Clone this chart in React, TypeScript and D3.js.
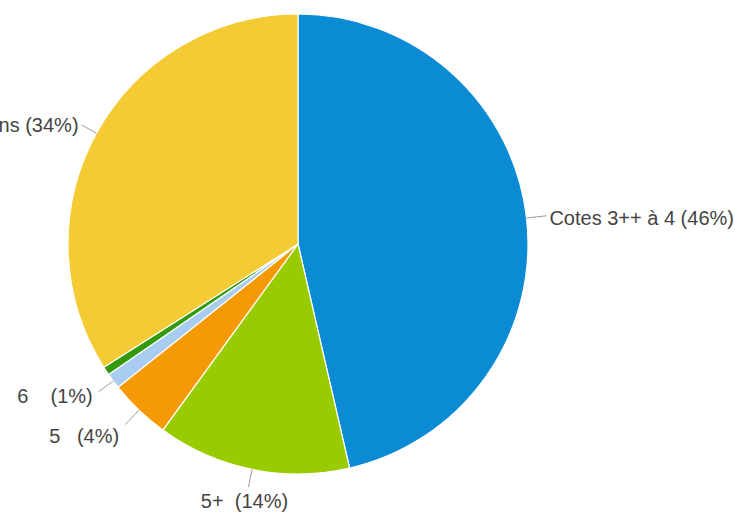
import React from "react";
import * as d3 from "d3";

const categories = ["Cotes 3++ à 4", "5+", "5", "6", "7", "Mentions"];
const values = [46.4, 13.6, 4.3, 1.1, 0.6, 34.0];
const labelNames = ["Cotes 3++ à 4 ", "5+  ", "5   ", "6    ", "", "Mentions "];
const colors = ["#0a8bd3", "#99cc00", "#f59a06", "#a8cdf0", "#339a0c", "#f4ca35"];

const W = 735;
const H = 515;
const CX = 298;
const CY = 244;
const R = 230;

// label placement styles per slice (anchor, text offset from leader end)
const labelStyle = [
  { anchor: "start", dx: 3, dy: 9, len: 20 },
  { anchor: "middle", dx: -4, dy: 21, len: 18 },
  { anchor: "end", dx: -6, dy: 18, len: 20 },
  { anchor: "end", dx: -6, dy: 11, len: 18 },
  null,
  { anchor: "end", dx: -3, dy: 7, len: 17 },
];

export default function App() {
  const total = d3.sum(values);
  const data = categories.map((c, i) => ({ c, v: values[i], i }));
  const pie = d3.pie<any>().value((d) => d.v).sort(null);
  const arcs = pie(data);
  const arc = d3.arc<any>().innerRadius(0).outerRadius(R);
  const fmt = (v: number) => `${Math.round((v / total) * 100)}%`;

  return (
    <svg
      width={W}
      height={H}
      style={{ position: "absolute", left: 0, top: 0, background: "#fff" }}
      fontFamily="Arial, 'Liberation Sans', sans-serif"
    >
      <g transform={`translate(${CX},${CY})`}>
        {arcs.map((a, i) => (
          <path key={i} d={arc(a) || ""} fill={colors[i]} stroke="#fff" strokeWidth={1.2} />
        ))}
        {arcs.map((a, i) => {
          const s = labelStyle[i];
          if (!s) return null;
          const mid = (a.startAngle + a.endAngle) / 2;
          const ux = Math.sin(mid);
          const uy = -Math.cos(mid);
          const x1 = ux * R;
          const y1 = uy * R;
          const x2 = ux * (R + s.len);
          const y2 = uy * (R + s.len);
          return (
            <g key={"l" + i}>
              <line x1={x1} y1={y1} x2={x2} y2={y2} stroke="#9a9a9a" strokeWidth={1} />
              <text
                x={x2 + s.dx}
                y={y2 + s.dy}
                textAnchor={s.anchor as any}
                fontSize={20}
                fill="#444"
                style={{ whiteSpace: "pre" }}
              >
                {`${labelNames[i]}(${fmt(a.data.v)})`}
              </text>
            </g>
          );
        })}
      </g>
    </svg>
  );
}
